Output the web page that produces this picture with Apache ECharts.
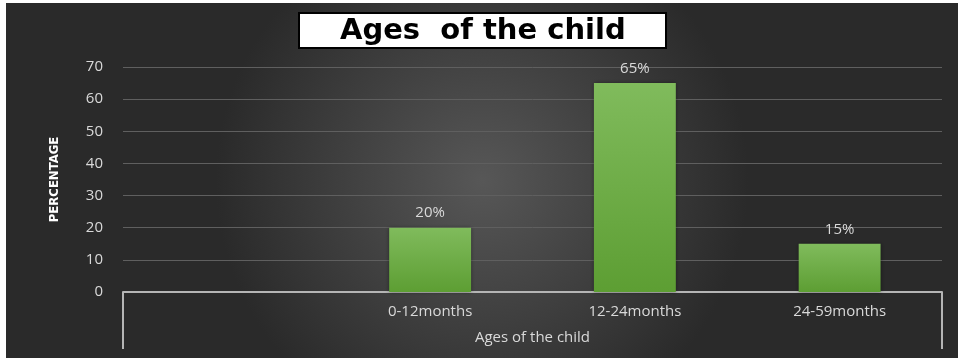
<!DOCTYPE html>
<html>
<head>
<meta charset="utf-8">
<title>Ages of the child</title>
<script src="https://cdn.jsdelivr.net/npm/echarts@6/dist/echarts.min.js"></script>
<style>
  html, body { margin: 0; padding: 0; background: #fff; }
  #chart { position: absolute; left: 6px; top: 3px; width: 952px; height: 355px; }
</style>
</head>
<body>
<div id="chart"></div>
<script>
// data
var categories = ['', '0-12months', '12-24months', '24-59months'];
var percentValues = [null, 20, 65, 15];
var groupLabel = ['Ages of the child'];
var yTicks = [0, 70, 10]; // min, max, interval

var chart = echarts.init(document.getElementById('chart'));
var labelColor = '#d9d9d9';
var option = {
    backgroundColor: {
        type: 'radial', x: 0.5, y: 0.5, r: 0.75,
        colorStops: [
            { offset: 0, color: '#575757' },
            { offset: 1, color: '#2a2a2a' }
        ]
    },
    title: {
        text: 'Ages  of the child',
        left: 293,
        top: 10,
        backgroundColor: '#fff',
        borderColor: '#000',
        borderWidth: 2,
        padding: [2, 41, 1, 41],
        textStyle: {
            color: '#000',
            fontFamily: 'DejaVu Sans',
            fontWeight: 'bold',
            fontSize: 29,
            lineHeight: 32
        }
    },
    grid: { left: 117, right: 16, top: 64, bottom: 66 },
    xAxis: [
        {
            type: 'category',
            data: categories,
            axisLine: { lineStyle: { color: '#b5b5b5', width: 2 } },
            axisTick: { show: false },
            axisLabel: { color: labelColor, fontSize: 15, margin: 12, fontFamily: 'Open Sans' }
        },
        {
            type: 'category',
            data: groupLabel,
            position: 'bottom',
            axisLine: { show: false },
            axisTick: { show: true, length: 57, lineStyle: { color: '#b5b5b5', width: 2 } },
            axisLabel: { color: labelColor, fontSize: 15, margin: 38, fontFamily: 'Open Sans' }
        }
    ],
    yAxis: {
        type: 'value',
        min: yTicks[0],
        max: yTicks[1],
        interval: yTicks[2],
        name: 'PERCENTAGE',
        nameLocation: 'middle',
        nameGap: 62,
        nameTextStyle: {
            color: '#ffffff',
            fontFamily: 'DejaVu Sans Condensed',
            fontWeight: 'bold',
            fontSize: 13
        },
        axisLine: { show: false },
        axisTick: { show: false },
        axisLabel: { color: labelColor, fontSize: 15, margin: 20, fontFamily: 'Open Sans' },
        splitLine: { lineStyle: { color: '#5f5f5f', width: 1 } }
    },
    series: [{
        type: 'bar',
        xAxisIndex: 0,
        data: percentValues,
        barWidth: '40%',
        itemStyle: {
            color: {
                type: 'linear', x: 0, y: 0, x2: 0, y2: 1,
                colorStops: [
                    { offset: 0, color: '#80bb5c' },
                    { offset: 1, color: '#5d9e33' }
                ]
            },
            shadowColor: 'rgba(0,0,0,0.4)',
            shadowBlur: 4
        },
        label: {
            show: true,
            position: 'top',
            distance: 7,
            color: labelColor,
            fontSize: 15,
            fontFamily: 'Open Sans',
            formatter: '{c}%'
        }
    }]
};
chart.setOption(option);
</script>
</body>
</html>
